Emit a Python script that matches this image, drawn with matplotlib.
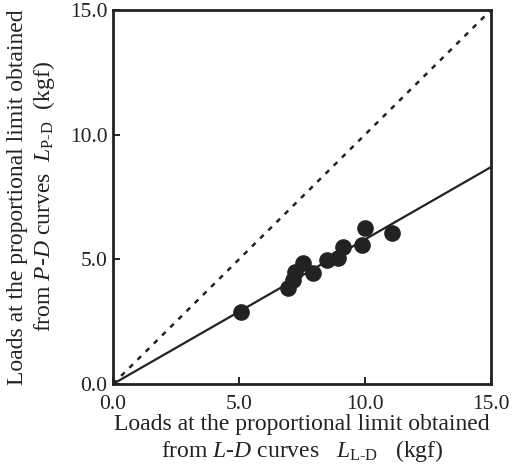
import matplotlib
matplotlib.use("Agg")
import matplotlib.pyplot as plt

plt.rcParams['font.family'] = ['Liberation Serif', 'DejaVu Serif']
plt.rcParams['mathtext.fontset'] = 'custom'
plt.rcParams['mathtext.rm'] = 'Liberation Serif'
plt.rcParams['mathtext.it'] = 'Liberation Serif:italic'

# loads from L-D curves (x) and P-D curves (y), kgf
load_ld = [5.08, 6.94, 7.14, 7.22, 7.54, 7.94, 8.49, 8.93, 9.13, 9.88, 10.0, 11.07]
load_pd = [2.89, 3.85, 4.17, 4.49, 4.85, 4.45, 4.97, 5.05, 5.50, 5.58, 6.26, 6.06]

fit_x = [0.0, 15.0]
fit_y = [0.0, 8.7]
ticks = [0, 5, 10, 15]
tick_labels = ['0.0', '5.0', '10.0', '15.0']

ink = '#222222'

fig = plt.figure(figsize=(5.15, 4.74), dpi=100)
ax = fig.add_axes([0.2194, 0.1899, 0.734, 0.789])

ax.plot([0, 15], [0, 15], color=ink, lw=1.8, linestyle=(0, (2, 2.6)))
ax.plot(fit_x, fit_y, color=ink, lw=1.6)
ax.plot(load_ld, load_pd, 'o', color=ink, markersize=12, markeredgewidth=0)

ax.set_xlim(0, 15)
ax.set_ylim(0, 15)
ax.set_xticks(ticks)
ax.set_xticklabels(tick_labels)
ax.set_yticks(ticks)
ax.set_yticklabels(tick_labels)
ax.tick_params(direction='in', length=5, width=1.4, colors=ink, labelsize=15.5)
ax.tick_params(axis='x', pad=8)
ax.tick_params(axis='y', pad=4)
for s in ax.spines.values():
    s.set_linewidth(2)
    s.set_color(ink)

ax.set_xlabel('Loads at the proportional limit obtained\n'
              r'from $L$-$D$ curves   $L_{\mathrm{L\text{-}D}}$   (kgf)',
              fontsize=17, color=ink, linespacing=1.15, labelpad=0)
ax.set_ylabel('Loads at the proportional limit obtained\n'
              r'from $P$-$D$ curves  $L_{\mathrm{P\text{-}D}}$  (kgf)',
              fontsize=17, color=ink, linespacing=1.15, labelpad=9)

fig.savefig('out.png', dpi=100)
